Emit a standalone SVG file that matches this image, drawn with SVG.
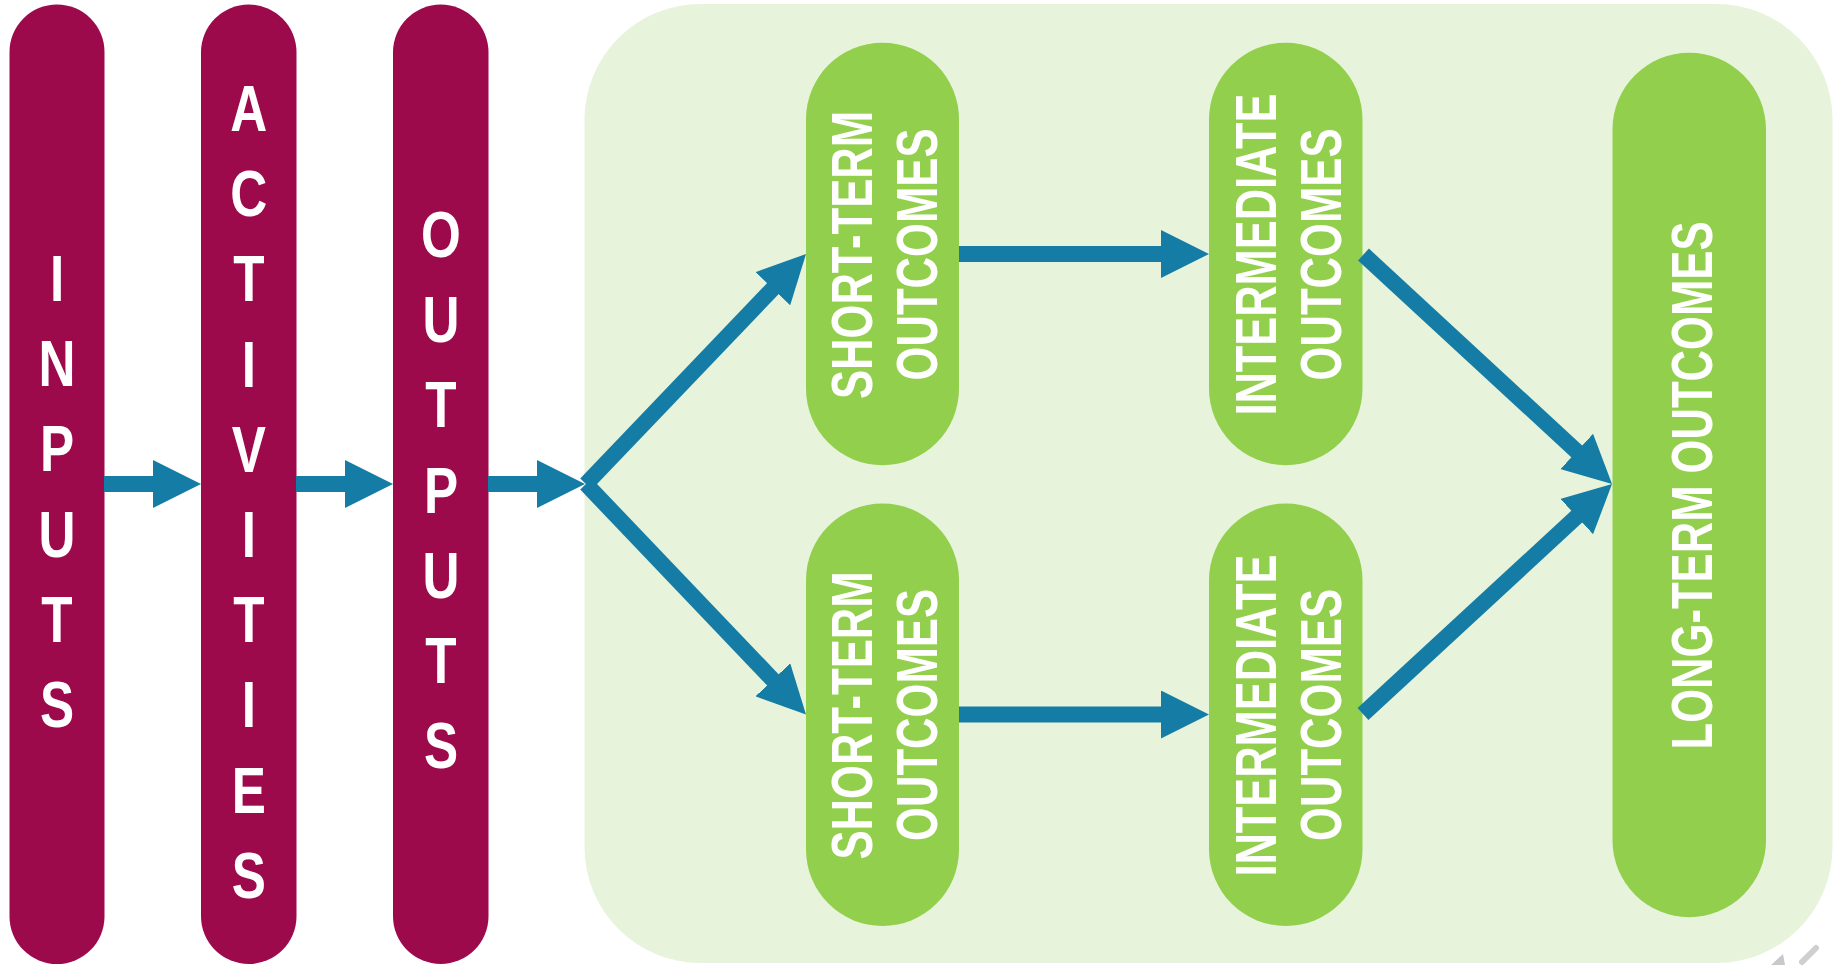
<svg xmlns="http://www.w3.org/2000/svg" width="1839" height="965" viewBox="0 0 1839 965">
<defs>
<style>
.mar{fill:#9d0a4c}
.grn{fill:#92cf4c}
.lt{font-family:"Liberation Sans",Arial,sans-serif;font-weight:bold;font-size:64px;fill:#ffffff;text-anchor:middle}
.gt{font-family:"Liberation Sans",Arial,sans-serif;font-weight:bold;font-size:56.5px;fill:#ffffff;text-anchor:middle}
.con{stroke:#157ca5;stroke-width:16;fill:none;stroke-linecap:butt;marker-end:url(#ah)}
.bare{stroke:#157ca5;stroke-width:16;fill:none;stroke-linecap:butt}
</style>
<marker id="ah" markerUnits="userSpaceOnUse" markerWidth="48" markerHeight="48" refX="4" refY="24" orient="auto" viewBox="0 0 48 48">
<path d="M0,0 L48,24 L0,48 Z" fill="#157ca5"/>
</marker>
</defs>
<rect width="1839" height="965" fill="#ffffff"/>
<rect id="panel" x="584.5" y="4" width="1248" height="959" rx="116" ry="116" fill="#e7f4db"/>

<g id="inputs">
<rect class="mar" x="9.5" y="4.5" width="95" height="959.5" rx="47.5" ry="47.5"/>
<g transform="translate(57,0) scale(0.8,1)">
<text class="lt" x="0" y="301">I</text>
<text class="lt" x="0" y="386.2">N</text>
<text class="lt" x="0" y="471.4">P</text>
<text class="lt" x="0" y="556.6">U</text>
<text class="lt" x="0" y="641.8">T</text>
<text class="lt" x="0" y="727">S</text>
</g>
</g>

<g id="activities">
<rect class="mar" x="201" y="4.5" width="95.5" height="959.5" rx="47.75" ry="47.75"/>
<g transform="translate(248.8,0) scale(0.8,1)">
<text class="lt" x="0" y="131">A</text>
<text class="lt" x="0" y="216.2">C</text>
<text class="lt" x="0" y="301.4">T</text>
<text class="lt" x="0" y="386.6">I</text>
<text class="lt" x="0" y="471.8">V</text>
<text class="lt" x="0" y="557">I</text>
<text class="lt" x="0" y="642.2">T</text>
<text class="lt" x="0" y="727.4">I</text>
<text class="lt" x="0" y="812.6">E</text>
<text class="lt" x="0" y="897.8">S</text>
</g>
</g>

<g id="outputs">
<rect class="mar" x="393" y="4.5" width="95.5" height="959.5" rx="47.75" ry="47.75"/>
<g transform="translate(441,0) scale(0.8,1)">
<text class="lt" x="0" y="257">O</text>
<text class="lt" x="0" y="342.2">U</text>
<text class="lt" x="0" y="427.4">T</text>
<text class="lt" x="0" y="512.6">P</text>
<text class="lt" x="0" y="597.8">U</text>
<text class="lt" x="0" y="683">T</text>
<text class="lt" x="0" y="768.2">S</text>
</g>
</g>

<g id="short-term-1">
<rect class="grn" x="806" y="42.7" width="153" height="422.5" rx="76.5" ry="76.5"/>
<text class="gt" transform="translate(872,255) rotate(-90)" textLength="288" lengthAdjust="spacingAndGlyphs">SHORT-TERM</text>
<text class="gt" transform="translate(937,254.5) rotate(-90)" textLength="252" lengthAdjust="spacingAndGlyphs">OUTCOMES</text>
</g>

<g id="short-term-2">
<rect class="grn" x="806" y="503.5" width="153" height="422.5" rx="76.5" ry="76.5"/>
<text class="gt" transform="translate(872,715.5) rotate(-90)" textLength="288" lengthAdjust="spacingAndGlyphs">SHORT-TERM</text>
<text class="gt" transform="translate(937,715) rotate(-90)" textLength="252" lengthAdjust="spacingAndGlyphs">OUTCOMES</text>
</g>

<g id="intermediate-1">
<rect class="grn" x="1209" y="42.7" width="153.5" height="422.5" rx="76.75" ry="76.75"/>
<text class="gt" transform="translate(1276,254.5) rotate(-90)" textLength="322" lengthAdjust="spacingAndGlyphs">INTERMEDIATE</text>
<text class="gt" transform="translate(1340.5,254.5) rotate(-90)" textLength="252" lengthAdjust="spacingAndGlyphs">OUTCOMES</text>
</g>

<g id="intermediate-2">
<rect class="grn" x="1209" y="503.5" width="153.5" height="422.5" rx="76.75" ry="76.75"/>
<text class="gt" transform="translate(1276,715.5) rotate(-90)" textLength="322" lengthAdjust="spacingAndGlyphs">INTERMEDIATE</text>
<text class="gt" transform="translate(1340.5,715) rotate(-90)" textLength="252" lengthAdjust="spacingAndGlyphs">OUTCOMES</text>
</g>

<g id="long-term">
<rect class="grn" x="1612.5" y="52.7" width="153.5" height="864.5" rx="76.75" ry="76.75"/>
<text class="gt" transform="translate(1711.5,485.5) rotate(-90)" textLength="528" lengthAdjust="spacingAndGlyphs">LONG-TERM OUTCOMES</text>
</g>

<g id="connectors">
<line class="con" x1="104" y1="484" x2="157" y2="484"/>
<line class="con" x1="296" y1="484" x2="349" y2="484"/>
<line class="con" x1="488" y1="484" x2="541" y2="484"/>
<line class="con" x1="586" y1="484" x2="775.6" y2="285.8"/>
<line class="con" x1="586" y1="484" x2="775.6" y2="682.7"/>
<line class="con" x1="959" y1="254" x2="1165" y2="254"/>
<line class="con" x1="959" y1="714.5" x2="1165" y2="714.5"/>
<line class="con" x1="1363.5" y1="254.5" x2="1579.7" y2="454.1"/>
<line class="con" x1="1363" y1="714" x2="1579.7" y2="513.9"/>
</g>

<g id="grip" fill="#c9c9c9" stroke="none">
<path d="M1771,965 L1783,954 L1785,965 Z"/>
<line x1="1802" y1="962" x2="1816" y2="948" stroke="#cfcfcf" stroke-width="6" stroke-linecap="round"/>
</g>
</svg>
